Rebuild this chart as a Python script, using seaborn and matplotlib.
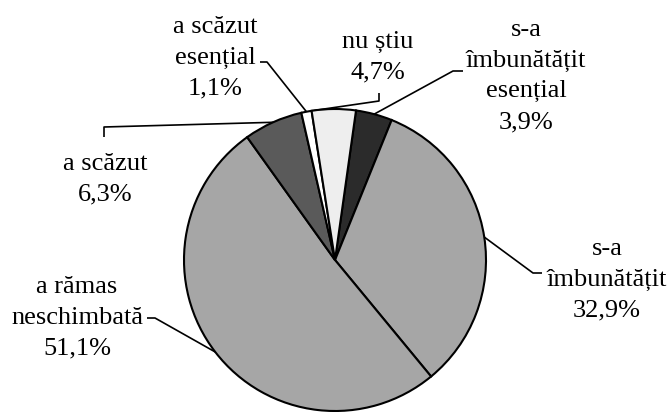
import matplotlib
matplotlib.use("Agg")
import matplotlib.pyplot as plt
import seaborn as sns
import numpy as np

# ---------------------------------------------------------
# Data
# ---------------------------------------------------------

categories = [
    "s-a\nîmbunătățit\nesențial",
    "s-a\nîmbunătățit",
    "a rămas\nneschimbată",
    "a scăzut",
    "a scăzut\nesențial",
    "nu știu",
]
shares = [3.9, 32.9, 51.1, 6.3, 1.1, 4.7]
slice_colors = ["#2b2b2b", "#a6a6a6", "#a6a6a6", "#5a5a5a", "#ffffff", "#eeeeee"]

# ---------------------------------------------------------
# Layout (pixel coordinates, origin top-left)
# ---------------------------------------------------------

W, H = 672, 412
CENTER = (335, H - 260)
RADIUS = 151
START = 82

label_pos = [(526, 76), (607, 280), (77, 318), (105, 179), (215, 58), (378, 57)]
leader_elbow = [
    ((463, 71), (453, 71)),
    ((542, 273), (533, 273)),
    ((147, 318), (155, 318)),
    ((104, 137), (104, 127)),
    ((260, 62), (267, 62)),
    ((379, 93), (379, 101)),
]
leader_frac = [0.5, 0.5, 0.5, 0.5, 0.5, 0.98]

sns.set_theme(style="white")
plt.rcParams["font.family"] = ["Liberation Serif", "DejaVu Serif"]

fig = plt.figure(figsize=(W / 100, H / 100), dpi=100)
ax = fig.add_axes([0, 0, 1, 1])

wedges, _ = ax.pie(
    shares,
    colors=slice_colors,
    startangle=START,
    counterclock=False,
    center=CENTER,
    radius=RADIUS,
    wedgeprops=dict(edgecolor="black", linewidth=1.5),
    frame=False,
)

for wedge, name, value, pos, elbow, frac in zip(
    wedges, categories, shares, label_pos, leader_elbow, leader_frac
):
    text = name + "\n" + f"{value:.1f}".replace(".", ",") + "%"
    ax.text(pos[0], H - pos[1], text, ha="center", va="center",
            fontsize=19, linespacing=1.52, color="black")

    # leader: short tick near the label, then a line to the slice edge
    ang = np.deg2rad(wedge.theta1 + frac * (wedge.theta2 - wedge.theta1))
    ex = CENTER[0] + RADIUS * np.cos(ang)
    ey = CENTER[1] + RADIUS * np.sin(ang)
    (x1, y1), (x2, y2) = elbow
    ax.plot([x1, x2, ex], [H - y1, H - y2, ey], color="black",
            lw=1.2, solid_capstyle="butt", zorder=0)

ax.set_xlim(0, W)
ax.set_ylim(0, H)
ax.set_aspect("equal")
ax.axis("off")

fig.savefig("out.png", dpi=100)
plt.close(fig)
